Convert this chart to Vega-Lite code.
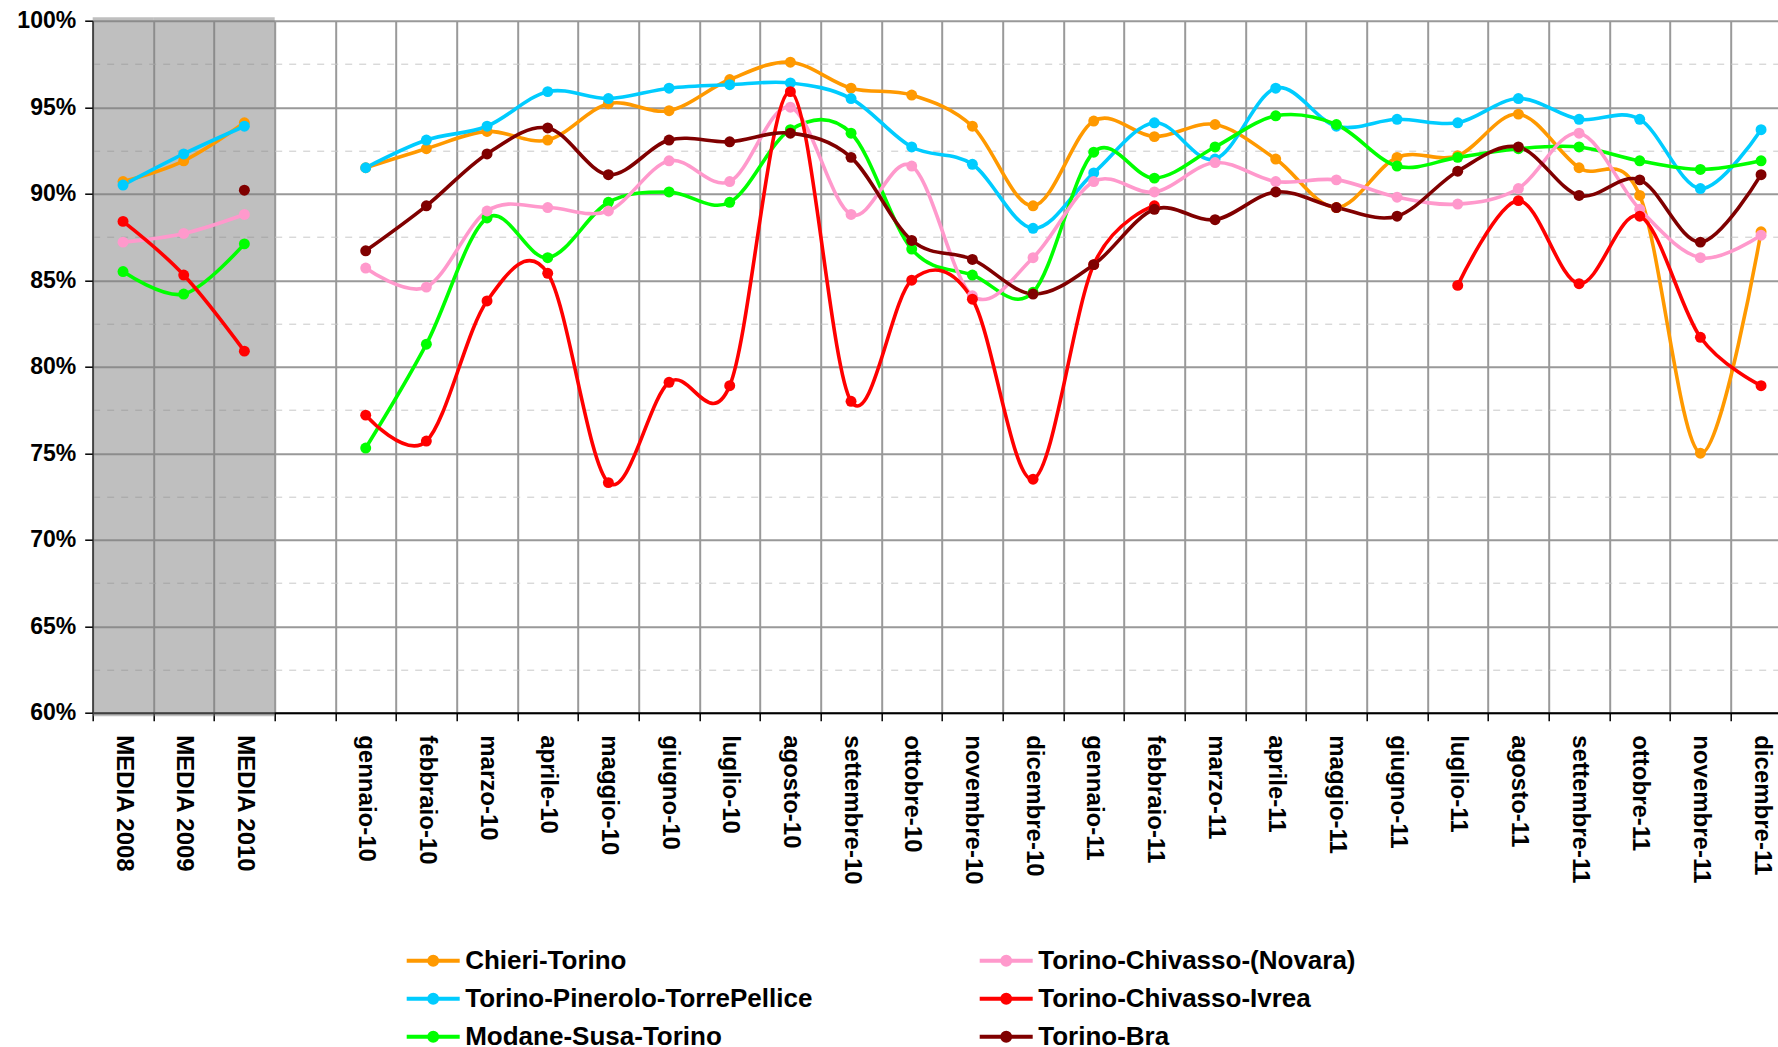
{
  "$schema": "https://vega.github.io/schema/vega-lite/v6.json",
  "width": 1685.3,
  "height": 692,
  "autosize": {"type": "none"},
  "padding": {"left": 92.7, "top": 20.7, "right": 0, "bottom": 334.3},
  "background": "white",
  "config": {"view": {"stroke": null}, "font": "Liberation Sans"},
  "data": {"values": [
    {"periodo":"MEDIA 2008","linea":"Chieri-Torino","valore":90.7},
    {"periodo":"MEDIA 2009","linea":"Chieri-Torino","valore":91.9},
    {"periodo":"MEDIA 2010","linea":"Chieri-Torino","valore":94.1},
    {"periodo":" ","linea":"Chieri-Torino","valore":null},
    {"periodo":"gennaio-10","linea":"Chieri-Torino","valore":91.5},
    {"periodo":"febbraio-10","linea":"Chieri-Torino","valore":92.6},
    {"periodo":"marzo-10","linea":"Chieri-Torino","valore":93.6},
    {"periodo":"aprile-10","linea":"Chieri-Torino","valore":93.1},
    {"periodo":"maggio-10","linea":"Chieri-Torino","valore":95.2},
    {"periodo":"giugno-10","linea":"Chieri-Torino","valore":94.8},
    {"periodo":"luglio-10","linea":"Chieri-Torino","valore":96.6},
    {"periodo":"agosto-10","linea":"Chieri-Torino","valore":97.6},
    {"periodo":"settembre-10","linea":"Chieri-Torino","valore":96.1},
    {"periodo":"ottobre-10","linea":"Chieri-Torino","valore":95.7},
    {"periodo":"novembre-10","linea":"Chieri-Torino","valore":93.9},
    {"periodo":"dicembre-10","linea":"Chieri-Torino","valore":89.3},
    {"periodo":"gennaio-11","linea":"Chieri-Torino","valore":94.2},
    {"periodo":"febbraio-11","linea":"Chieri-Torino","valore":93.3},
    {"periodo":"marzo-11","linea":"Chieri-Torino","valore":94.0},
    {"periodo":"aprile-11","linea":"Chieri-Torino","valore":92.0},
    {"periodo":"maggio-11","linea":"Chieri-Torino","valore":89.2},
    {"periodo":"giugno-11","linea":"Chieri-Torino","valore":92.1},
    {"periodo":"luglio-11","linea":"Chieri-Torino","valore":92.2},
    {"periodo":"agosto-11","linea":"Chieri-Torino","valore":94.6},
    {"periodo":"settembre-11","linea":"Chieri-Torino","valore":91.5},
    {"periodo":"ottobre-11","linea":"Chieri-Torino","valore":89.9},
    {"periodo":"novembre-11","linea":"Chieri-Torino","valore":75.0},
    {"periodo":"dicembre-11","linea":"Chieri-Torino","valore":87.8},

    {"periodo":"MEDIA 2008","linea":"Torino-Pinerolo-TorrePellice","valore":90.5},
    {"periodo":"MEDIA 2009","linea":"Torino-Pinerolo-TorrePellice","valore":92.3},
    {"periodo":"MEDIA 2010","linea":"Torino-Pinerolo-TorrePellice","valore":93.9},
    {"periodo":" ","linea":"Torino-Pinerolo-TorrePellice","valore":null},
    {"periodo":"gennaio-10","linea":"Torino-Pinerolo-TorrePellice","valore":91.5},
    {"periodo":"febbraio-10","linea":"Torino-Pinerolo-TorrePellice","valore":93.1},
    {"periodo":"marzo-10","linea":"Torino-Pinerolo-TorrePellice","valore":93.9},
    {"periodo":"aprile-10","linea":"Torino-Pinerolo-TorrePellice","valore":95.9},
    {"periodo":"maggio-10","linea":"Torino-Pinerolo-TorrePellice","valore":95.5},
    {"periodo":"giugno-10","linea":"Torino-Pinerolo-TorrePellice","valore":96.1},
    {"periodo":"luglio-10","linea":"Torino-Pinerolo-TorrePellice","valore":96.3},
    {"periodo":"agosto-10","linea":"Torino-Pinerolo-TorrePellice","valore":96.4},
    {"periodo":"settembre-10","linea":"Torino-Pinerolo-TorrePellice","valore":95.5},
    {"periodo":"ottobre-10","linea":"Torino-Pinerolo-TorrePellice","valore":92.7},
    {"periodo":"novembre-10","linea":"Torino-Pinerolo-TorrePellice","valore":91.7},
    {"periodo":"dicembre-10","linea":"Torino-Pinerolo-TorrePellice","valore":88.0},
    {"periodo":"gennaio-11","linea":"Torino-Pinerolo-TorrePellice","valore":91.2},
    {"periodo":"febbraio-11","linea":"Torino-Pinerolo-TorrePellice","valore":94.1},
    {"periodo":"marzo-11","linea":"Torino-Pinerolo-TorrePellice","valore":92.0},
    {"periodo":"aprile-11","linea":"Torino-Pinerolo-TorrePellice","valore":96.1},
    {"periodo":"maggio-11","linea":"Torino-Pinerolo-TorrePellice","valore":93.9},
    {"periodo":"giugno-11","linea":"Torino-Pinerolo-TorrePellice","valore":94.3},
    {"periodo":"luglio-11","linea":"Torino-Pinerolo-TorrePellice","valore":94.1},
    {"periodo":"agosto-11","linea":"Torino-Pinerolo-TorrePellice","valore":95.5},
    {"periodo":"settembre-11","linea":"Torino-Pinerolo-TorrePellice","valore":94.3},
    {"periodo":"ottobre-11","linea":"Torino-Pinerolo-TorrePellice","valore":94.3},
    {"periodo":"novembre-11","linea":"Torino-Pinerolo-TorrePellice","valore":90.3},
    {"periodo":"dicembre-11","linea":"Torino-Pinerolo-TorrePellice","valore":93.7},

    {"periodo":"MEDIA 2008","linea":"Modane-Susa-Torino","valore":85.5},
    {"periodo":"MEDIA 2009","linea":"Modane-Susa-Torino","valore":84.2},
    {"periodo":"MEDIA 2010","linea":"Modane-Susa-Torino","valore":87.1},
    {"periodo":" ","linea":"Modane-Susa-Torino","valore":null},
    {"periodo":"gennaio-10","linea":"Modane-Susa-Torino","valore":75.3},
    {"periodo":"febbraio-10","linea":"Modane-Susa-Torino","valore":81.3},
    {"periodo":"marzo-10","linea":"Modane-Susa-Torino","valore":88.6},
    {"periodo":"aprile-10","linea":"Modane-Susa-Torino","valore":86.3},
    {"periodo":"maggio-10","linea":"Modane-Susa-Torino","valore":89.5},
    {"periodo":"giugno-10","linea":"Modane-Susa-Torino","valore":90.1},
    {"periodo":"luglio-10","linea":"Modane-Susa-Torino","valore":89.5},
    {"periodo":"agosto-10","linea":"Modane-Susa-Torino","valore":93.7},
    {"periodo":"settembre-10","linea":"Modane-Susa-Torino","valore":93.5},
    {"periodo":"ottobre-10","linea":"Modane-Susa-Torino","valore":86.8},
    {"periodo":"novembre-10","linea":"Modane-Susa-Torino","valore":85.3},
    {"periodo":"dicembre-10","linea":"Modane-Susa-Torino","valore":84.3},
    {"periodo":"gennaio-11","linea":"Modane-Susa-Torino","valore":92.4},
    {"periodo":"febbraio-11","linea":"Modane-Susa-Torino","valore":90.9},
    {"periodo":"marzo-11","linea":"Modane-Susa-Torino","valore":92.7},
    {"periodo":"aprile-11","linea":"Modane-Susa-Torino","valore":94.5},
    {"periodo":"maggio-11","linea":"Modane-Susa-Torino","valore":94.0},
    {"periodo":"giugno-11","linea":"Modane-Susa-Torino","valore":91.6},
    {"periodo":"luglio-11","linea":"Modane-Susa-Torino","valore":92.1},
    {"periodo":"agosto-11","linea":"Modane-Susa-Torino","valore":92.6},
    {"periodo":"settembre-11","linea":"Modane-Susa-Torino","valore":92.7},
    {"periodo":"ottobre-11","linea":"Modane-Susa-Torino","valore":91.9},
    {"periodo":"novembre-11","linea":"Modane-Susa-Torino","valore":91.4},
    {"periodo":"dicembre-11","linea":"Modane-Susa-Torino","valore":91.9},

    {"periodo":"MEDIA 2008","linea":"Torino-Chivasso-(Novara)","valore":87.2},
    {"periodo":"MEDIA 2009","linea":"Torino-Chivasso-(Novara)","valore":87.7},
    {"periodo":"MEDIA 2010","linea":"Torino-Chivasso-(Novara)","valore":88.8},
    {"periodo":" ","linea":"Torino-Chivasso-(Novara)","valore":null},
    {"periodo":"gennaio-10","linea":"Torino-Chivasso-(Novara)","valore":85.7},
    {"periodo":"febbraio-10","linea":"Torino-Chivasso-(Novara)","valore":84.6},
    {"periodo":"marzo-10","linea":"Torino-Chivasso-(Novara)","valore":89.0},
    {"periodo":"aprile-10","linea":"Torino-Chivasso-(Novara)","valore":89.2},
    {"periodo":"maggio-10","linea":"Torino-Chivasso-(Novara)","valore":89.0},
    {"periodo":"giugno-10","linea":"Torino-Chivasso-(Novara)","valore":91.9},
    {"periodo":"luglio-10","linea":"Torino-Chivasso-(Novara)","valore":90.7},
    {"periodo":"agosto-10","linea":"Torino-Chivasso-(Novara)","valore":95.0},
    {"periodo":"settembre-10","linea":"Torino-Chivasso-(Novara)","valore":88.8},
    {"periodo":"ottobre-10","linea":"Torino-Chivasso-(Novara)","valore":91.6},
    {"periodo":"novembre-10","linea":"Torino-Chivasso-(Novara)","valore":84.1},
    {"periodo":"dicembre-10","linea":"Torino-Chivasso-(Novara)","valore":86.3},
    {"periodo":"gennaio-11","linea":"Torino-Chivasso-(Novara)","valore":90.7},
    {"periodo":"febbraio-11","linea":"Torino-Chivasso-(Novara)","valore":90.1},
    {"periodo":"marzo-11","linea":"Torino-Chivasso-(Novara)","valore":91.8},
    {"periodo":"aprile-11","linea":"Torino-Chivasso-(Novara)","valore":90.7},
    {"periodo":"maggio-11","linea":"Torino-Chivasso-(Novara)","valore":90.8},
    {"periodo":"giugno-11","linea":"Torino-Chivasso-(Novara)","valore":89.8},
    {"periodo":"luglio-11","linea":"Torino-Chivasso-(Novara)","valore":89.4},
    {"periodo":"agosto-11","linea":"Torino-Chivasso-(Novara)","valore":90.3},
    {"periodo":"settembre-11","linea":"Torino-Chivasso-(Novara)","valore":93.5},
    {"periodo":"ottobre-11","linea":"Torino-Chivasso-(Novara)","valore":89.1},
    {"periodo":"novembre-11","linea":"Torino-Chivasso-(Novara)","valore":86.3},
    {"periodo":"dicembre-11","linea":"Torino-Chivasso-(Novara)","valore":87.6},

    {"periodo":"MEDIA 2008","linea":"Torino-Chivasso-Ivrea","valore":88.4},
    {"periodo":"MEDIA 2009","linea":"Torino-Chivasso-Ivrea","valore":85.3},
    {"periodo":"MEDIA 2010","linea":"Torino-Chivasso-Ivrea","valore":80.9},
    {"periodo":" ","linea":"Torino-Chivasso-Ivrea","valore":null},
    {"periodo":"gennaio-10","linea":"Torino-Chivasso-Ivrea","valore":77.2},
    {"periodo":"febbraio-10","linea":"Torino-Chivasso-Ivrea","valore":75.7},
    {"periodo":"marzo-10","linea":"Torino-Chivasso-Ivrea","valore":83.8},
    {"periodo":"aprile-10","linea":"Torino-Chivasso-Ivrea","valore":85.4},
    {"periodo":"maggio-10","linea":"Torino-Chivasso-Ivrea","valore":73.3},
    {"periodo":"giugno-10","linea":"Torino-Chivasso-Ivrea","valore":79.1},
    {"periodo":"luglio-10","linea":"Torino-Chivasso-Ivrea","valore":78.9},
    {"periodo":"agosto-10","linea":"Torino-Chivasso-Ivrea","valore":95.9},
    {"periodo":"settembre-10","linea":"Torino-Chivasso-Ivrea","valore":78.0},
    {"periodo":"ottobre-10","linea":"Torino-Chivasso-Ivrea","valore":85.0},
    {"periodo":"novembre-10","linea":"Torino-Chivasso-Ivrea","valore":83.9},
    {"periodo":"dicembre-10","linea":"Torino-Chivasso-Ivrea","valore":73.5},
    {"periodo":"gennaio-11","linea":"Torino-Chivasso-Ivrea","valore":85.9},
    {"periodo":"febbraio-11","linea":"Torino-Chivasso-Ivrea","valore":89.3},
    {"periodo":"marzo-11","linea":"Torino-Chivasso-Ivrea","valore":null},
    {"periodo":"aprile-11","linea":"Torino-Chivasso-Ivrea","valore":null},
    {"periodo":"maggio-11","linea":"Torino-Chivasso-Ivrea","valore":null},
    {"periodo":"giugno-11","linea":"Torino-Chivasso-Ivrea","valore":null},
    {"periodo":"luglio-11","linea":"Torino-Chivasso-Ivrea","valore":84.7},
    {"periodo":"agosto-11","linea":"Torino-Chivasso-Ivrea","valore":89.6},
    {"periodo":"settembre-11","linea":"Torino-Chivasso-Ivrea","valore":84.8},
    {"periodo":"ottobre-11","linea":"Torino-Chivasso-Ivrea","valore":88.7},
    {"periodo":"novembre-11","linea":"Torino-Chivasso-Ivrea","valore":81.7},
    {"periodo":"dicembre-11","linea":"Torino-Chivasso-Ivrea","valore":78.9},

    {"periodo":"MEDIA 2008","linea":"Torino-Bra","valore":null},
    {"periodo":"MEDIA 2009","linea":"Torino-Bra","valore":null},
    {"periodo":"MEDIA 2010","linea":"Torino-Bra","valore":90.2},
    {"periodo":" ","linea":"Torino-Bra","valore":null},
    {"periodo":"gennaio-10","linea":"Torino-Bra","valore":86.7},
    {"periodo":"febbraio-10","linea":"Torino-Bra","valore":89.3},
    {"periodo":"marzo-10","linea":"Torino-Bra","valore":92.3},
    {"periodo":"aprile-10","linea":"Torino-Bra","valore":93.8},
    {"periodo":"maggio-10","linea":"Torino-Bra","valore":91.1},
    {"periodo":"giugno-10","linea":"Torino-Bra","valore":93.1},
    {"periodo":"luglio-10","linea":"Torino-Bra","valore":93.0},
    {"periodo":"agosto-10","linea":"Torino-Bra","valore":93.5},
    {"periodo":"settembre-10","linea":"Torino-Bra","valore":92.1},
    {"periodo":"ottobre-10","linea":"Torino-Bra","valore":87.3},
    {"periodo":"novembre-10","linea":"Torino-Bra","valore":86.2},
    {"periodo":"dicembre-10","linea":"Torino-Bra","valore":84.2},
    {"periodo":"gennaio-11","linea":"Torino-Bra","valore":85.9},
    {"periodo":"febbraio-11","linea":"Torino-Bra","valore":89.1},
    {"periodo":"marzo-11","linea":"Torino-Bra","valore":88.5},
    {"periodo":"aprile-11","linea":"Torino-Bra","valore":90.1},
    {"periodo":"maggio-11","linea":"Torino-Bra","valore":89.2},
    {"periodo":"giugno-11","linea":"Torino-Bra","valore":88.7},
    {"periodo":"luglio-11","linea":"Torino-Bra","valore":91.3},
    {"periodo":"agosto-11","linea":"Torino-Bra","valore":92.7},
    {"periodo":"settembre-11","linea":"Torino-Bra","valore":89.9},
    {"periodo":"ottobre-11","linea":"Torino-Bra","valore":90.8},
    {"periodo":"novembre-11","linea":"Torino-Bra","valore":87.2},
    {"periodo":"dicembre-11","linea":"Torino-Bra","valore":91.1}
  ]},
  "encoding": {
    "x": {
      "field": "periodo",
      "type": "ordinal",
      "scale": {
        "type": "band",
        "paddingInner": 0,
        "paddingOuter": 0,
        "range": [0, 1698.7],
        "domain": ["MEDIA 2008","MEDIA 2009","MEDIA 2010"," ","gennaio-10","febbraio-10","marzo-10","aprile-10","maggio-10","giugno-10","luglio-10","agosto-10","settembre-10","ottobre-10","novembre-10","dicembre-10","gennaio-11","febbraio-11","marzo-11","aprile-11","maggio-11","giugno-11","luglio-11","agosto-11","settembre-11","ottobre-11","novembre-11","dicembre-11"]
      },
      "axis": {
        "title": null,
        "tickBand": "extent",
        "grid": true,
        "gridColor": "#999999",
        "gridWidth": 2,
        "domainColor": "black",
        "domainWidth": 2,
        "tickColor": "black",
        "tickWidth": 1.5,
        "tickSize": 8,
        "labelAngle": 90,
        "labelAlign": "left",
        "labelBaseline": "middle",
        "labelPadding": 14,
        "labelFont": "Liberation Sans",
        "labelFontWeight": "bold",
        "labelFontSize": 24,
        "labelColor": "black",
        "labelLimit": 400,
        "labelOverlap": false
      }
    }
  },
  "layer": [
    {
      "transform": [{"filter": "indexof(datum.periodo, 'MEDIA') === 0 && datum.linea === 'Chieri-Torino'"}],
      "mark": {"type": "bar", "color": "#808080", "opacity": 0.5},
      "encoding": {
        "y": {"datum": 100.2, "type": "quantitative", "scale": {"domain": [60, 100], "nice": false, "zero": false}},
        "y2": {"datum": 59.8}
      }
    },
    {
      "mark": {"type": "line", "interpolate": "cardinal", "strokeWidth": 3.6},
      "encoding": {
        "y": {
          "field": "valore",
          "type": "quantitative",
          "scale": {"domain": [60, 100], "nice": false, "zero": false},
          "axis": {
            "title": null,
            "values": [60, 62.5, 65, 67.5, 70, 72.5, 75, 77.5, 80, 82.5, 85, 87.5, 90, 92.5, 95, 97.5, 100],
            "grid": true,
            "gridColor": {"condition": {"test": "datum.value % 5 !== 0", "value": "#c8c8c8"}, "value": "#999999"},
            "gridDash": {"condition": {"test": "datum.value % 5 !== 0", "value": [7, 7]}, "value": []},
            "gridWidth": {"condition": {"test": "datum.value % 5 !== 0", "value": 1}, "value": 2},
            "tickOpacity": {"condition": {"test": "datum.value % 5 !== 0", "value": 0}, "value": 1},
            "tickColor": "black",
            "tickWidth": 1.5,
            "tickSize": 8,
            "domainColor": "black",
            "domainWidth": 1.5,
            "labelExpr": "datum.value % 5 === 0 ? datum.value + '%' : ''",
            "labelFont": "Liberation Sans",
            "labelFontWeight": "bold",
            "labelFontSize": 23,
            "labelColor": "black",
            "labelPadding": 9
          }
        },
        "color": {
          "field": "linea",
          "type": "nominal",
          "scale": {
            "domain": ["Chieri-Torino", "Torino-Chivasso-(Novara)", "Torino-Pinerolo-TorrePellice", "Torino-Chivasso-Ivrea", "Modane-Susa-Torino", "Torino-Bra"],
            "range": ["#FF9900", "#FF99CC", "#00CCFF", "#FF0000", "#00FF00", "#800000"]
          },
          "legend": {
            "orient": "none",
            "legendX": 327.5,
            "legendY": 927,
            "columns": 2,
            "direction": "horizontal",
            "title": null,
            "padding": 0,
            "symbolType": "M-5.3,0L5.3,0M-0.8,0A0.8,0.8,0,1,1,0.8,0A0.8,0.8,0,1,1,-0.8,0Z",
            "symbolSize": 100,
            "symbolStrokeWidth": 4,
            "labelFont": "Liberation Sans",
            "labelFontWeight": "bold",
            "labelFontSize": 26,
            "labelColor": "black",
            "labelLimit": 600,
            "labelOffset": 19,
            "columnPadding": 158,
            "rowPadding": 12,
            "encode": {
              "symbols": {
                "update": {
                  "fill": {"scale": "color", "field": "value"},
                  "stroke": {"scale": "color", "field": "value"},
                  "opacity": {"value": 1}
                }
              }
            }
          }
        },
        "order": {"value": null}
      }
    },
    {
      "mark": {"type": "point", "filled": true, "size": 120, "opacity": 1},
      "encoding": {
        "y": {"field": "valore", "type": "quantitative", "scale": {"domain": [60, 100], "nice": false, "zero": false}},
        "color": {
          "field": "linea",
          "type": "nominal",
          "scale": {
            "domain": ["Chieri-Torino", "Torino-Chivasso-(Novara)", "Torino-Pinerolo-TorrePellice", "Torino-Chivasso-Ivrea", "Modane-Susa-Torino", "Torino-Bra"],
            "range": ["#FF9900", "#FF99CC", "#00CCFF", "#FF0000", "#00FF00", "#800000"]
          }
        }
      }
    }
  ]
}
